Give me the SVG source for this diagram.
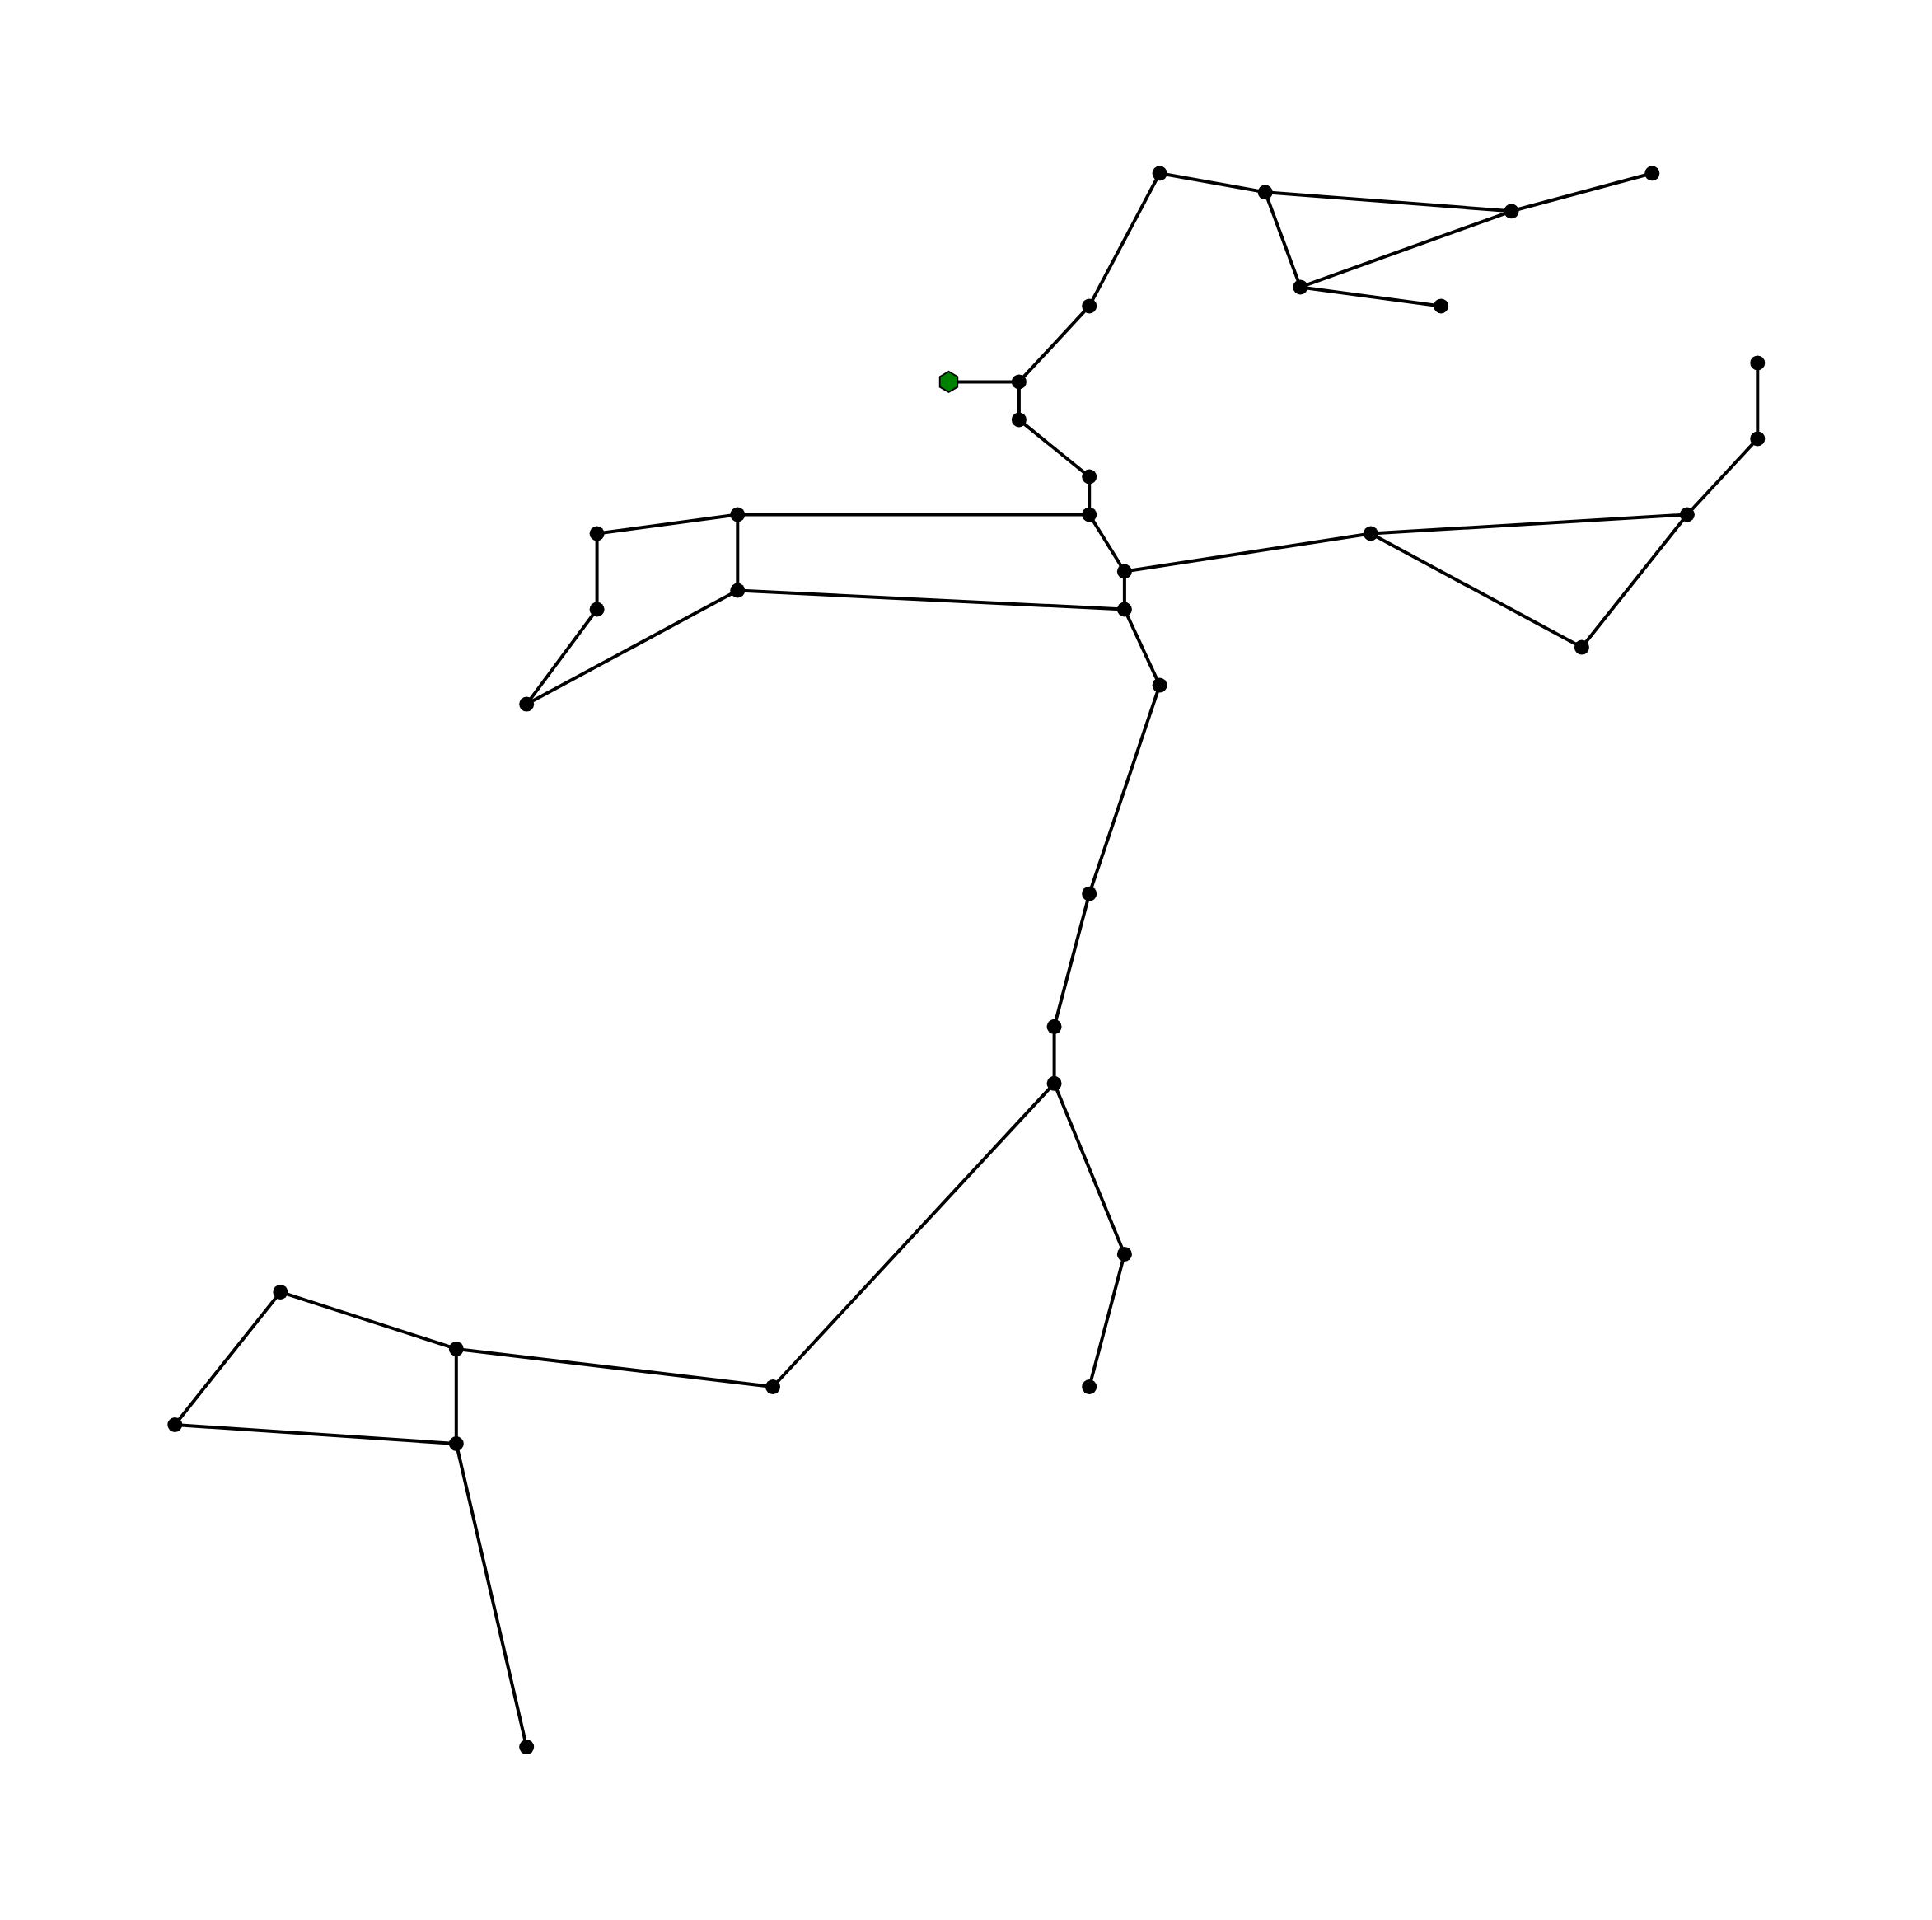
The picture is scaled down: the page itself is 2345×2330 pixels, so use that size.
<svg xmlns="http://www.w3.org/2000/svg" width="2345" height="2330" viewBox="0 0 2345 2330">
<style>
.e{stroke:#000;stroke-width:4;fill:none;stroke-linecap:round}
.n{fill:#000}
.s{fill:#008000;stroke:#000;stroke-width:1.8}
</style>
<defs>
<circle id="dot" r="9" class="n"/>
<polygon id="hex" class="s" points="0,-12.5 10.8,-6.25 10.8,6.25 0,12.5 -10.8,6.25 -10.8,-6.25"/>
</defs>
<rect width="2345" height="2330" fill="#fff"/>
<g id="edges" class="e">
<line x1="1407.6" y1="210.3" x2="1535.7" y2="233.3"/>
<line x1="1535.7" y1="233.3" x2="1834.5" y2="256.3"/>
<line x1="1834.5" y1="256.3" x2="2005.3" y2="210.3"/>
<line x1="1535.7" y1="233.3" x2="1578.4" y2="348.4"/>
<line x1="1578.4" y1="348.4" x2="1834.5" y2="256.3"/>
<line x1="1578.4" y1="348.4" x2="1749.1" y2="371.4"/>
<line x1="1407.6" y1="210.3" x2="1322.2" y2="371.4"/>
<line x1="1322.2" y1="371.4" x2="1236.9" y2="463.4"/>
<line x1="1236.9" y1="463.4" x2="1151.5" y2="463.4"/>
<line x1="1236.9" y1="463.4" x2="1236.9" y2="509.4"/>
<line x1="1236.9" y1="509.4" x2="1322.2" y2="578.5"/>
<line x1="1322.2" y1="578.5" x2="1322.2" y2="624.5"/>
<line x1="1322.2" y1="624.5" x2="895.3" y2="624.5"/>
<line x1="895.3" y1="624.5" x2="724.6" y2="647.5"/>
<line x1="724.6" y1="647.5" x2="724.6" y2="739.5"/>
<line x1="895.3" y1="624.5" x2="895.3" y2="716.5"/>
<line x1="724.6" y1="739.5" x2="639.2" y2="854.6"/>
<line x1="895.3" y1="716.5" x2="639.2" y2="854.6"/>
<line x1="895.3" y1="716.5" x2="1364.9" y2="739.5"/>
<line x1="1322.2" y1="624.5" x2="1364.9" y2="693.5"/>
<line x1="1364.9" y1="693.5" x2="1364.9" y2="739.5"/>
<line x1="1364.9" y1="693.5" x2="1663.8" y2="647.5"/>
<line x1="1663.8" y1="647.5" x2="2047.9" y2="624.5"/>
<line x1="2047.9" y1="624.5" x2="2133.3" y2="532.4"/>
<line x1="2133.3" y1="532.4" x2="2133.3" y2="440.4"/>
<line x1="1663.8" y1="647.5" x2="1919.9" y2="785.6"/>
<line x1="1919.9" y1="785.6" x2="2047.9" y2="624.5"/>
<line x1="1364.9" y1="739.5" x2="1407.6" y2="831.6"/>
<line x1="1407.6" y1="831.6" x2="1322.2" y2="1084.7"/>
<line x1="1322.2" y1="1084.7" x2="1279.6" y2="1245.8"/>
<line x1="1279.6" y1="1245.8" x2="1279.6" y2="1314.8"/>
<line x1="1279.6" y1="1314.8" x2="1364.9" y2="1521.9"/>
<line x1="1364.9" y1="1521.9" x2="1322.2" y2="1683.0"/>
<line x1="1279.6" y1="1314.8" x2="938.0" y2="1683.0"/>
<line x1="938.0" y1="1683.0" x2="553.8" y2="1636.9"/>
<line x1="553.8" y1="1636.9" x2="340.4" y2="1567.9"/>
<line x1="340.4" y1="1567.9" x2="212.3" y2="1729.0"/>
<line x1="212.3" y1="1729.0" x2="553.8" y2="1752.0"/>
<line x1="553.8" y1="1636.9" x2="553.8" y2="1752.0"/>
<line x1="553.8" y1="1752.0" x2="639.2" y2="2120.1"/>
</g>
<g id="nodeA"><use href="#dot" x="1407.6" y="210.3"/></g>
<g id="nodeB"><use href="#dot" x="1535.7" y="233.3"/></g>
<g id="nodeC"><use href="#dot" x="1834.5" y="256.3"/></g>
<g id="nodeD"><use href="#dot" x="2005.3" y="210.3"/></g>
<g id="nodeE"><use href="#dot" x="1578.4" y="348.4"/></g>
<g id="nodeF"><use href="#dot" x="1749.1" y="371.4"/></g>
<g id="nodeG"><use href="#dot" x="1322.2" y="371.4"/></g>
<g id="nodeH"><use href="#dot" x="1236.9" y="463.4"/></g>
<g id="nodeSource"><use href="#hex" x="1151.5" y="463.4"/></g>
<g id="nodeJ"><use href="#dot" x="1236.9" y="509.4"/></g>
<g id="nodeK"><use href="#dot" x="1322.2" y="578.5"/></g>
<g id="nodeL"><use href="#dot" x="1322.2" y="624.5"/></g>
<g id="nodeM"><use href="#dot" x="895.3" y="624.5"/></g>
<g id="nodeN"><use href="#dot" x="724.6" y="647.5"/></g>
<g id="nodeO"><use href="#dot" x="724.6" y="739.5"/></g>
<g id="nodeP"><use href="#dot" x="895.3" y="716.5"/></g>
<g id="nodeQ"><use href="#dot" x="639.2" y="854.6"/></g>
<g id="nodeR"><use href="#dot" x="1364.9" y="693.5"/></g>
<g id="nodeS"><use href="#dot" x="1364.9" y="739.5"/></g>
<g id="nodeT"><use href="#dot" x="1407.6" y="831.6"/></g>
<g id="nodeU"><use href="#dot" x="1663.8" y="647.5"/></g>
<g id="nodeV"><use href="#dot" x="2047.9" y="624.5"/></g>
<g id="nodeW"><use href="#dot" x="2133.3" y="532.4"/></g>
<g id="nodeX"><use href="#dot" x="2133.3" y="440.4"/></g>
<g id="nodeY"><use href="#dot" x="1919.9" y="785.6"/></g>
<g id="nodeZ"><use href="#dot" x="1322.2" y="1084.7"/></g>
<g id="nodeAA"><use href="#dot" x="1279.6" y="1245.8"/></g>
<g id="nodeAB"><use href="#dot" x="1279.6" y="1314.8"/></g>
<g id="nodeAC"><use href="#dot" x="1364.9" y="1521.9"/></g>
<g id="nodeAD"><use href="#dot" x="1322.2" y="1683.0"/></g>
<g id="nodeAE"><use href="#dot" x="938.0" y="1683.0"/></g>
<g id="nodeAF"><use href="#dot" x="553.8" y="1636.9"/></g>
<g id="nodeAG"><use href="#dot" x="340.4" y="1567.9"/></g>
<g id="nodeAH"><use href="#dot" x="212.3" y="1729.0"/></g>
<g id="nodeAI"><use href="#dot" x="553.8" y="1752.0"/></g>
<g id="nodeAJ"><use href="#dot" x="639.2" y="2120.1"/></g>
</svg>
